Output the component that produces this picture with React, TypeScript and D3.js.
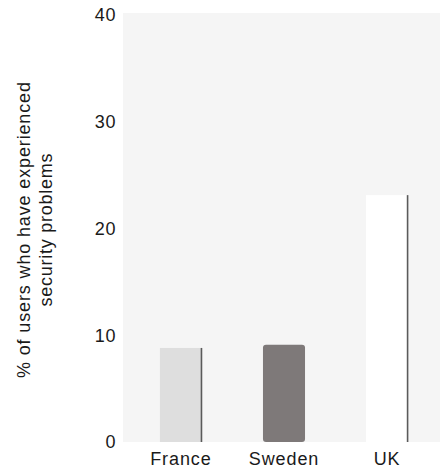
import React from "react";
import * as d3 from "d3";

const categories = ["France", "Sweden", "UK"];
const values = [8.8, 9.1, 23.1];
const yTicks = [0, 10, 20, 30, 40];
const yTitleLines = ["% of users who have experienced", "security problems"];

const W = 447;
const H = 474;
const plot = { left: 123, right: 440, top: 13, bottom: 442 };

export default function App() {
  const x = d3
    .scaleBand<string>()
    .domain(categories)
    .range([129, 439])
    .paddingInner(0.592)
    .paddingOuter(0.3);
  const y = d3.scaleLinear().domain([0, 40]).range([442, 14.5]);
  const bw = x.bandwidth();
  const font = "'Liberation Sans', Arial, Helvetica, sans-serif";
  const textColor = "#1a1a1a";

  const fills = ["#dedede", "#7e7979", "#ffffff"];

  return (
    <svg
      width={W}
      height={H}
      style={{ position: "absolute", left: 0, top: 0, background: "#ffffff" }}
      fontFamily={font}
    >
      <rect
        x={plot.left}
        y={plot.top}
        width={plot.right - plot.left}
        height={plot.bottom - plot.top}
        fill="#f5f5f5"
      />
      {categories.map((c, i) => {
        const x0 = x(c)!;
        const top = y(values[i]);
        const h = y(0) - top;
        if (i === 1) {
          return (
            <rect key={c} x={x0} y={top} width={bw} height={h} rx={3} fill={fills[i]} />
          );
        }
        return (
          <g key={c}>
            <rect x={x0} y={top} width={bw} height={h} fill={fills[i]} />
            <line
              x1={x0 + bw - 0.5}
              x2={x0 + bw - 0.5}
              y1={top}
              y2={y(0)}
              stroke="#5a5a5a"
              strokeWidth={1.6}
            />
          </g>
        );
      })}
      {yTicks.map((t) => (
        <text
          key={t}
          x={116}
          y={y(t)}
          dy="0.36em"
          textAnchor="end"
          fontSize={18}
          letterSpacing={0.6}
          fill={textColor}
        >
          {t}
        </text>
      ))}
      {categories.map((c) => (
        <text
          key={c}
          x={x(c)! + bw / 2}
          y={465}
          textAnchor="middle"
          fontSize={18}
          letterSpacing={0.9}
          fill={textColor}
        >
          {c}
        </text>
      ))}
      <g transform="translate(0,230) rotate(-90)">
        <text
          x={0}
          y={29.5}
          textAnchor="middle"
          fontSize={18}
          textLength={296}
          lengthAdjust="spacing"
          fill={textColor}
        >
          {yTitleLines[0]}
        </text>
        <text
          x={0}
          y={51.5}
          textAnchor="middle"
          fontSize={18}
          textLength={153}
          lengthAdjust="spacing"
          fill={textColor}
        >
          {yTitleLines[1]}
        </text>
      </g>
    </svg>
  );
}
